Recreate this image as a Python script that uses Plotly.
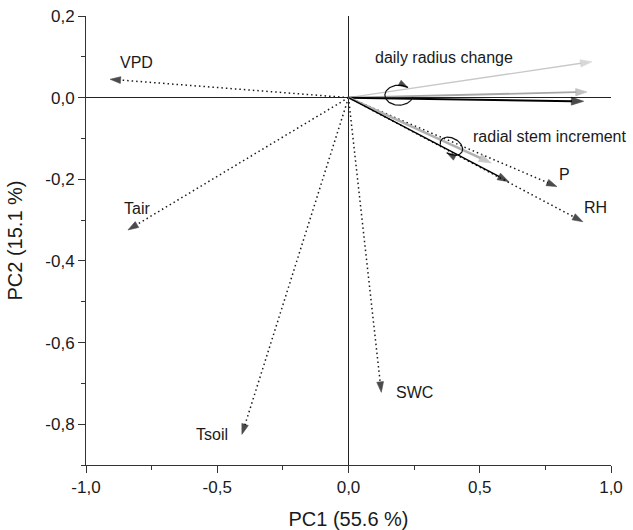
import numpy as np
import plotly.graph_objects as go

# ---- data ----
env_labels = ["VPD", "Tair", "Tsoil", "SWC", "P", "RH"]
env_pc1 = [-0.908, -0.840, -0.406, 0.125, 0.794, 0.893]
env_pc2 = [0.045, -0.324, -0.825, -0.722, -0.218, -0.304]

drc_pc1 = [0.927, 0.909, 0.896]     # daily radius change vectors
drc_pc2 = [0.088, 0.014, -0.009]
rsi_pc1 = [0.544, 0.611]            # radial stem increment vectors
rsi_pc2 = [-0.160, -0.206]

group_labels = ["daily radius change", "radial stem increment"]
group_pc1 = [0.363, 0.766]
group_pc2 = [0.099, -0.094]

x_tickvals = [-1.0, -0.5, 0.0, 0.5, 1.0]
x_ticktext = ["-1,0", "-0,5", "0,0", "0,5", "1,0"]
y_tickvals = [0.2, 0.0, -0.2, -0.4, -0.6, -0.8]
y_ticktext = ["0,2", "0,0", "-0,2", "-0,4", "-0,6", "-0,8"]

# ---- style ----
FONT = "Liberation Sans, Arial, sans-serif"
TXT = "#1a1a1a"
label_offsets = [(26, 17), (9, 21), (-30, 0), (33, 0), (8, 12), (13, 14)]  # px
drc_colors = ["#c8c8c8", "#a6a6a6", "#000000"]
drc_widths = [1.4, 1.8, 2.0]
drc_heads = [12, 12, 13]
rsi_colors = ["#b0b0b0", "#000000"]
rsi_widths = [2.6, 1.4]
rsi_heads = [13, 12]

XR = [-1.0, 1.0]
YR = [-0.9, 0.2]
PXX = 525 / 2.0     # px per unit x
PXY = 449 / 1.1     # px per unit y


def arrow_trace(x, y, color, width, head, dash="solid", head_color=None):
    return go.Scatter(
        x=[0, x], y=[0, y], mode="lines+markers",
        line=dict(color=color, width=width, dash=dash),
        marker=dict(symbol=["circle", "arrow"], size=[0, head],
                    angleref="previous", color=head_color or color,
                    line=dict(width=0.6, color=head_color or color)),
        hoverinfo="skip", showlegend=False)


fig = go.Figure()
ann = []

# dotted environmental vectors
for lab, x, y, (dx, dy) in zip(env_labels, env_pc1, env_pc2, label_offsets):
    fig.add_trace(arrow_trace(x, y, "#1a1a1a", 1.5, 11, dash="1.5px,3px",
                              head_color="#000000"))
    ann.append(dict(x=x, y=y, xref="x", yref="y", text=lab, showarrow=False,
                    xshift=dx, yshift=dy,
                    font=dict(family=FONT, size=16, color=TXT)))

# solid response vectors
for x, y, c, w, h in zip(drc_pc1, drc_pc2, drc_colors, drc_widths, drc_heads):
    fig.add_trace(arrow_trace(x, y, c, w, h))
for x, y, c, w, h in zip(rsi_pc1, rsi_pc2, rsi_colors, rsi_widths, rsi_heads):
    fig.add_trace(arrow_trace(x, y, c, w, h))

for lab, x, y in zip(group_labels, group_pc1, group_pc2):
    ann.append(dict(x=x, y=y, xref="x", yref="y", text=lab, showarrow=False,
                    font=dict(family=FONT, size=16, color=TXT)))

# curved grouping arrows (ellipse arcs in px around a centre, converted to data)
loops = [
    dict(cx=0.192, cy=0.006, rx=14, ry=10, tilt=0, a0=10, a1=310),
    dict(cx=0.392, cy=-0.119, rx=12, ry=8, tilt=28, a0=150, a1=455),
]
for lp in loops:
    ph = np.radians(np.linspace(lp["a0"], lp["a1"], 80))
    ex = lp["rx"] * np.cos(ph)
    ey = lp["ry"] * np.sin(ph)
    t = np.radians(lp["tilt"])
    sx = ex * np.cos(t) - ey * np.sin(t)
    sy = ex * np.sin(t) + ey * np.cos(t)
    xs = lp["cx"] + sx / PXX
    ys = lp["cy"] - sy / PXY
    n = len(xs)
    fig.add_trace(go.Scatter(
        x=xs, y=ys, mode="lines+markers",
        line=dict(color="#111111", width=1.2),
        marker=dict(symbol=["circle"] * (n - 1) + ["arrow"],
                    size=[0] * (n - 1) + [10], angleref="previous",
                    color="#000000", line=dict(width=0.5, color="#000000")),
        hoverinfo="skip", showlegend=False))

axis_common = dict(showgrid=False, zeroline=True, zerolinecolor="#222222",
                   zerolinewidth=1.3, showline=True, linecolor="#333333",
                   linewidth=1, ticks="outside", ticklen=7, tickcolor="#333333",
                   automargin=False,
                   tickfont=dict(family=FONT, size=17, color=TXT))

fig.update_xaxes(range=XR, tickvals=x_tickvals, ticktext=x_ticktext,
                 minor=dict(dtick=0.25, ticks="outside", ticklen=4,
                            tickcolor="#333333"),
                 title=dict(text="PC1 (55.6 %)", standoff=15,
                            font=dict(family=FONT, size=20, color=TXT)),
                 **axis_common)
fig.update_yaxes(range=YR, tickvals=y_tickvals, ticktext=y_ticktext,
                 minor=dict(dtick=0.1, ticks="outside", ticklen=4,
                            tickcolor="#333333"),
                 title=dict(text="PC2 (15.1 %)", standoff=17,
                            font=dict(family=FONT, size=20, color=TXT)),
                 **axis_common)

fig.update_layout(width=633, height=530,
                  margin=dict(l=86, r=22, t=16, b=65),
                  plot_bgcolor="white", paper_bgcolor="white",
                  annotations=ann, showlegend=False)

fig.write_html("out.html")
